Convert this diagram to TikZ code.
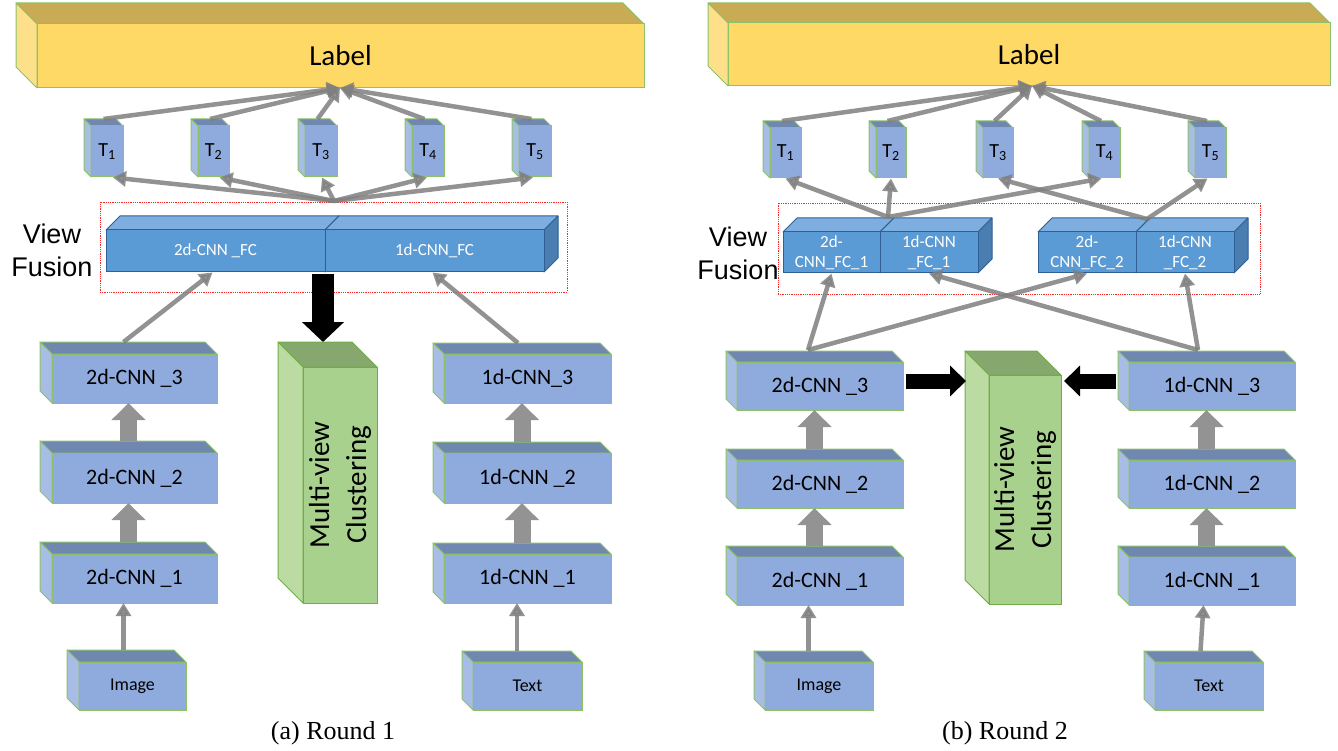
\documentclass[tikz,border=0pt]{standalone}
\usepackage{fontspec}
\setmainfont{Carlito}
\newfontfamily\arialf{Liberation Sans}
\newfontfamily\timesf{Liberation Serif}
\usetikzlibrary{arrows.meta,calc}

\definecolor{cLabFront}{HTML}{FFD966}
\definecolor{cLabTop}{HTML}{C9AB55}
\definecolor{cLabSide}{HTML}{FFE08A}
\definecolor{cEdge}{HTML}{8CC16A}
\definecolor{cCnnFront}{HTML}{8FAADC}
\definecolor{cCnnTop}{HTML}{7088B0}
\definecolor{cCnnSide}{HTML}{A8BDE6}
\definecolor{cFcFront}{HTML}{5B9BD5}
\definecolor{cFcTop}{HTML}{7DAEDF}
\definecolor{cFcSide}{HTML}{4A7DB0}
\definecolor{cFcEdge}{HTML}{2F5F95}
\definecolor{cMvFront}{HTML}{A9D18E}
\definecolor{cMvTop}{HTML}{86A86E}
\definecolor{cMvSide}{HTML}{BBDBA3}
\definecolor{cMvEdge}{HTML}{70AD47}
\definecolor{cArrow}{HTML}{7F7F7F}
\definecolor{cBlock}{HTML}{939393}

% up-left extruded cube: name,x1,y1,x2,y2,depth,style prefix,text
\newcommand\ulcube[8]{%
  \filldraw[#7top] (#2,#3) -- (#4,#3) -- ({#4-#6},{#3-#6}) -- ({#2-#6},{#3-#6}) -- cycle;
  \filldraw[#7side] (#2,#3) -- ({#2-#6},{#3-#6}) -- ({#2-#6},{#5-#6}) -- (#2,#5) -- cycle;
  \node[#7front, minimum width={#4-#2}, minimum height={#5-#3}] (#1) at ({(#2+#4)/2},{(#3+#5)/2}) {#8};
  \coordinate (#1-top) at ({(#2+#4-#6)/2},{#3-#6});
  \coordinate (#1-bot) at ({(#2+#4-#6)/2},#5);
}
% up-right extruded cube
\newcommand\urcube[8]{%
  \filldraw[#7top] (#2,#3) -- (#4,#3) -- ({#4+#6},{#3-#6}) -- ({#2+#6},{#3-#6}) -- cycle;
  \filldraw[#7side] (#4,#3) -- ({#4+#6},{#3-#6}) -- ({#4+#6},{#5-#6}) -- (#4,#5) -- cycle;
  \node[#7front, minimum width={#4-#2}, minimum height={#5-#3}] (#1) at ({(#2+#4)/2},{(#3+#5)/2}) {#8};
}

\tikzset{
  labfront/.style={fill=cLabFront, draw=cEdge, line width=1pt, inner sep=0pt, font=\fontsize{29}{32}\selectfont},
  labtop/.style={fill=cLabTop, draw=cEdge, line width=1pt, line join=round},
  labside/.style={fill=cLabSide, draw=cEdge, line width=1pt, line join=round},
  cnnfront/.style={fill=cCnnFront, draw=cEdge, line width=1pt, inner sep=0pt, font=\fontsize{22}{24}\selectfont},
  cnntop/.style={fill=cCnnTop, draw=cEdge, line width=1pt, line join=round},
  cnnside/.style={fill=cCnnSide, draw=cEdge, line width=1pt, line join=round},
  tfront/.style={cnnfront, font=\fontsize{20}{22}\selectfont},
  ttop/.style={cnntop},
  tside/.style={cnnside},
  infront/.style={cnnfront, font=\fontsize{18}{20}\selectfont},
  intop/.style={cnntop},
  inside/.style={cnnside},
  fcfront/.style={fill=cFcFront, draw=cFcEdge, line width=1pt, inner sep=0pt, text=white, align=center, font=\fontsize{17}{20}\selectfont},
  fctop/.style={fill=cFcTop, draw=cFcEdge, line width=1pt, line join=round},
  fcside/.style={fill=cFcSide, draw=cFcEdge, line width=1pt, line join=round},
  mvfront/.style={fill=cMvFront, draw=cMvEdge, line width=1pt, inner sep=0pt},
  mvtop/.style={fill=cMvTop, draw=cMvEdge, line width=1pt, line join=round},
  mvside/.style={fill=cMvSide, draw=cMvEdge, line width=1pt, line join=round},
  mvtext/.style={rotate=90, align=center, font=\fontsize{29}{37}\selectfont},
  fusbox/.style={draw=red!85, densely dotted, line width=0.8pt, inner sep=0pt},
  viewtxt/.style={align=center, font=\arialf\fontsize{27}{33}\selectfont},
  captxt/.style={font=\timesf\fontsize{26}{28}\selectfont},
  garrow/.style={draw=cArrow, draw opacity=.85, fill opacity=.85, line width=4.5pt, -{Triangle[length=13pt,width=15pt]}},
  barrow/.style={draw=cBlock, line width=17pt, -{Triangle[length=17pt,width=33pt]}},
  karrowv/.style={draw=black, line width=22pt, -{Triangle[length=20pt,width=41pt]}},
  karrowh/.style={draw=black, line width=15pt, -{Triangle[length=16pt,width=30pt]}},
}

\begin{document}
\begin{tikzpicture}[x=1pt,y=-1pt]
\path[use as bounding box] (0,0) rectangle (1338,751);

% ================= (a) Round 1 =================
\ulcube{labL}{37}{24}{644}{88}{21}{lab}{Label}
\coordinate (labLtip) at (340,88);

\ulcube{TL1}{91}{126}{123}{177}{7}{t}{T\textsubscript{1}}
\ulcube{TL2}{198}{126}{229}{177}{7}{t}{T\textsubscript{2}}
\ulcube{TL3}{305}{126}{337}{177}{7}{t}{T\textsubscript{3}}
\ulcube{TL4}{412}{126}{444}{177}{7}{t}{T\textsubscript{4}}
\ulcube{TL5}{519}{126}{551}{177}{7}{t}{T\textsubscript{5}}

\node[fusbox, minimum width=467, minimum height=90] (fusL) at (333.5,247) {};
\urcube{FCL1}{106}{230}{325}{272}{14}{fc}{2d-CNN \_FC}
\urcube{FCL2}{325}{230}{544}{272}{14}{fc}{1d-CNN\_FC}
\coordinate (fusLsrc) at (334,201);
\node[viewtxt] (viewL) at (52,250) {View\\Fusion};

\ulcube{A3}{52}{354}{217}{403}{12}{cnn}{2d-CNN \_3}
\ulcube{A2}{52}{453}{217}{503}{12}{cnn}{2d-CNN \_2}
\ulcube{A1}{52}{554}{217}{603}{12}{cnn}{2d-CNN \_1}
\ulcube{B3}{444}{354}{611}{403}{11}{cnn}{1d-CNN\_3}
\ulcube{B2}{444}{453}{611}{503}{11}{cnn}{1d-CNN \_2}
\ulcube{B1}{444}{554}{611}{603}{11}{cnn}{1d-CNN \_1}
\ulcube{imgL}{79}{662}{186}{710}{12}{in}{Image}
\ulcube{txtL}{473}{662}{582}{710}{11}{in}{Text}

\ulcube{mvL}{303}{367}{377}{603}{25}{mv}{}
\node[mvtext] (mvLt) at (mvL.center) {Multi-view\\Clustering};

% arrows (a)
\foreach \i in {1,...,5} {\draw[garrow] (TL\i-top) -- (labLtip);}
\draw[garrow] (fusLsrc) -- ([xshift=6pt]TL1.south);
\draw[garrow] (fusLsrc) -- ([xshift=6pt]TL2.south);
\draw[garrow] (fusLsrc) -- ([xshift=1pt]TL3.south);
\draw[garrow] (fusLsrc) -- ([xshift=-1pt]TL4.south);
\draw[garrow] (fusLsrc) -- ([xshift=-2pt]TL5.south);
\draw[garrow] ([xshift=-5pt]A3-top) -- ([xshift=-3pt]FCL1.south);
\draw[garrow] ([xshift=-4pt]B3-top) -- ([xshift=-2pt]FCL2.south);
\draw[barrow] (A2-top) -- (A3-bot);
\draw[barrow] (A1-top) -- (A2-bot);
\draw[barrow] (B2-top) -- (B3-bot);
\draw[barrow] (B1-top) -- (B2-bot);
\draw[garrow] ([xshift=-3pt]imgL-top) -- ([xshift=-5pt]A1-bot);
\draw[garrow] ([xshift=-5pt]txtL-top) -- ([xshift=-5pt]B1-bot);
\coordinate (blkLs) at (323,274);
\coordinate (blkLe) at (323,342);
\draw[karrowv] (blkLs) -- (blkLe);

\node[captxt] (capL) at (333,733) {(a) Round 1};

% ================= (b) Round 2 =================
\ulcube{labR}{728}{23}{1330}{86}{20}{lab}{Label}
\coordinate (labRtip) at (1032,86);

\ulcube{TR1}{770}{128}{801}{178}{7}{t}{T\textsubscript{1}}
\ulcube{TR2}{876}{128}{906}{178}{7}{t}{T\textsubscript{2}}
\ulcube{TR3}{983}{128}{1013}{178}{7}{t}{T\textsubscript{3}}
\ulcube{TR4}{1089}{128}{1120}{178}{7}{t}{T\textsubscript{4}}
\ulcube{TR5}{1195}{128}{1226}{178}{7}{t}{T\textsubscript{5}}

\node[fusbox, minimum width=482, minimum height=91] (fusR) at (1019,248.5) {};
\urcube{FC1a}{783}{232}{880}{273}{14}{fc}{2d-\\CNN\_FC\_1}
\urcube{FC1b}{880}{232}{978}{273}{14}{fc}{1d-CNN\\\_FC\_1}
\urcube{FC2a}{1038}{232}{1136}{273}{14}{fc}{2d-\\CNN\_FC\_2}
\urcube{FC2b}{1136}{232}{1234}{273}{14}{fc}{1d-CNN\\\_FC\_2}
\node[viewtxt] (viewR) at (738,253) {View\\Fusion};
\coordinate (S1) at (888,217);
\coordinate (S2) at (1147,219);

\ulcube{C3}{737}{362}{903}{410}{11}{cnn}{2d-CNN \_3}
\ulcube{C2}{737}{460}{903}{508}{11}{cnn}{2d-CNN \_2}
\ulcube{C1}{737}{557}{903}{605}{11}{cnn}{2d-CNN \_1}
\ulcube{D3}{1129}{362}{1295}{410}{11}{cnn}{1d-CNN \_3}
\ulcube{D2}{1129}{460}{1295}{508}{11}{cnn}{1d-CNN \_2}
\ulcube{D1}{1129}{557}{1295}{605}{11}{cnn}{1d-CNN \_1}
\ulcube{imgR}{765}{662}{873}{710}{11}{in}{Image}
\ulcube{txtR}{1155}{662}{1263}{710}{11}{in}{Text}

\ulcube{mvR}{989}{375}{1061}{604}{24}{mv}{}
\node[mvtext] (mvRt) at (mvR.center) {Multi-view\\Clustering};

% arrows (b)
\foreach \i in {1,...,5} {\draw[garrow] (TR\i-top) -- (labRtip);}
\draw[garrow] (S1) -- (TR1.south);
\draw[garrow] (S1) -- (TR2.south);
\draw[garrow] (S1) -- ([xshift=-3pt]TR4.south);
\draw[garrow] (S2) -- (TR3.south);
\draw[garrow] (S2) -- ([xshift=-3pt]TR5.south);
\coordinate (P) at (808,350);
\coordinate (Q) at (1198,350);
\draw[garrow] (P) -- (FC1a.south);
\draw[garrow] (P) -- (FC2a.south);
\draw[garrow] (Q) -- (FC2b.south);
\draw[garrow] (Q) -- (FC1b.south);
\draw[barrow] (C2-top) -- (C3-bot);
\draw[barrow] (C1-top) -- (C2-bot);
\draw[barrow] (D2-top) -- (D3-bot);
\draw[barrow] (D1-top) -- (D2-bot);
\draw[garrow] ([xshift=-5pt]imgR-top) -- ([xshift=-6pt]C1-bot);
\draw[garrow] ([xshift=-3pt]txtR-top) -- ([xshift=-3pt]D1-bot);
\coordinate (kLs) at (906,381);
\coordinate (kL) at (966,381);
\coordinate (kRs) at (1116,381);
\coordinate (kR) at (1064,381);
\draw[karrowh] (kLs) -- (kL);
\draw[karrowh] (kRs) -- (kR);

\node[captxt] (capR) at (1005,733) {(b) Round 2};
\end{tikzpicture}
\end{document}
